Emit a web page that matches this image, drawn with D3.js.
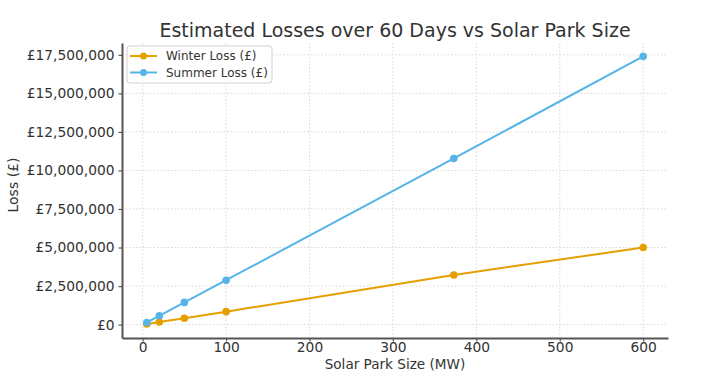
<!DOCTYPE html>
<html>
<head>
<meta charset="utf-8">
<script src="https://cdn.jsdelivr.net/npm/d3@7"></script>
<style>
  body { margin: 0; background: #fff; }
  svg text { font-family: "DejaVu Sans", sans-serif; fill: #333; }
  .grid line { stroke: #d9d9d9; stroke-dasharray: 1.5,2; }
  .axis path, .axis line { stroke: #555; }
</style>
</head>
<body>
<div id="chart"></div>
<script>
// solar park sizes (MW) and estimated losses (£)
const parkSizes = [5, 20, 50, 100, 373, 600];
const winterLoss = [40000, 170000, 415000, 840000, 3220000, 5000000];
const summerLoss = [140000, 570000, 1440000, 2880000, 10780000, 17400000];
const xTicks = [0, 100, 200, 300, 400, 500, 600];
const yTicks = [0, 2500000, 5000000, 7500000, 10000000, 12500000, 15000000, 17500000];
const seriesNames = ["Winter Loss (£)", "Summer Loss (£)"];
const seriesColors = ["#E69F00", "#56B4E9"];

const width = 705, height = 376;
const margins = { top: 43, right: 37, bottom: 38, left: 122 };
const w = width - margins.left - margins.right;
const h = height - margins.top - margins.bottom;

const svg = d3.select("#chart").append("svg")
    .attr("width", width)
    .attr("height", height);

const g = svg.append("g")
    .attr("transform", `translate(${margins.left}, ${margins.top})`);

const xScale = d3.scaleLinear().domain([-24.75, 629.75]).range([0, w]);
const yScale = d3.scaleLinear().domain([-870000, 18270000]).range([h, 0]);

// grid
g.append("g").attr("class", "grid")
    .selectAll("line").data(xTicks).enter().append("line")
    .attr("x1", d => xScale(d)).attr("x2", d => xScale(d))
    .attr("y1", 0).attr("y2", h);
g.append("g").attr("class", "grid")
    .selectAll("line").data(yTicks).enter().append("line")
    .attr("x1", 0).attr("x2", w)
    .attr("y1", d => yScale(d)).attr("y2", d => yScale(d));

const fmt = d => "£" + d3.format(",")(d);

const xAxis = d3.axisBottom(xScale).tickValues(xTicks).tickSize(3.5).tickPadding(2).tickSizeOuter(0);
const yAxis = d3.axisLeft(yScale).tickValues(yTicks).tickFormat(fmt).tickSize(3.5).tickPadding(4).tickSizeOuter(0);

const gx = g.append("g")
    .attr("class", "axis x-axis")
    .attr("transform", `translate(0, ${h})`)
    .call(xAxis);
const gy = g.append("g")
    .attr("class", "axis y-axis")
    .call(yAxis);

gx.select(".domain").attr("stroke-width", 2);
gy.select(".domain").attr("stroke-width", 2);
gx.selectAll(".tick line").attr("stroke-width", 1.2);
gy.selectAll(".tick line").attr("stroke-width", 1.2);
g.selectAll(".axis text").style("font-size", "13.8px").style("fill", "#333");
gx.selectAll("text").attr("dy", "0.62em");

// lines
const allSeries = [winterLoss, summerLoss];
const line = d3.line()
    .x((d, i) => xScale(parkSizes[i]))
    .y(d => yScale(d));

allSeries.forEach((values, s) => {
    g.append("path")
        .datum(values)
        .attr("fill", "none")
        .attr("stroke", seriesColors[s])
        .attr("stroke-width", 2)
        .attr("d", line);
    g.selectAll("circle.s" + s)
        .data(values)
        .enter().append("circle")
        .attr("class", "s" + s)
        .attr("cx", (d, i) => xScale(parkSizes[i]))
        .attr("cy", d => yScale(d))
        .attr("r", 3.8)
        .attr("fill", seriesColors[s]);
});

// title and axis labels
svg.append("text")
    .attr("x", margins.left + w / 2)
    .attr("y", 37)
    .attr("text-anchor", "middle")
    .style("font-size", "19px")
    .text("Estimated Losses over 60 Days vs Solar Park Size");

svg.append("text")
    .attr("x", margins.left + w / 2)
    .attr("y", 369)
    .attr("text-anchor", "middle")
    .style("font-size", "13.6px")
    .text("Solar Park Size (MW)");

svg.append("text")
    .attr("transform", `translate(18, ${185}) rotate(-90)`)
    .attr("text-anchor", "middle")
    .style("font-size", "14px")
    .text("Loss (£)");

// legend
const legend = svg.append("g").attr("transform", "translate(127, 46)");
legend.append("rect")
    .attr("width", 145).attr("height", 37)
    .attr("rx", 3)
    .attr("fill", "#fff").attr("fill-opacity", 0.85)
    .attr("stroke", "#d0d0d0");
seriesNames.forEach((name, s) => {
    const ly = 10 + s * 16.5;
    legend.append("line")
        .attr("x1", 3).attr("x2", 30)
        .attr("y1", ly).attr("y2", ly)
        .attr("stroke", seriesColors[s]).attr("stroke-width", 2);
    legend.append("circle")
        .attr("cx", 16.5).attr("cy", ly).attr("r", 3.5)
        .attr("fill", seriesColors[s]);
    legend.append("text")
        .attr("x", 39).attr("y", ly + 4.3)
        .style("font-size", "12px")
        .text(name);
});
</script>
</body>
</html>
